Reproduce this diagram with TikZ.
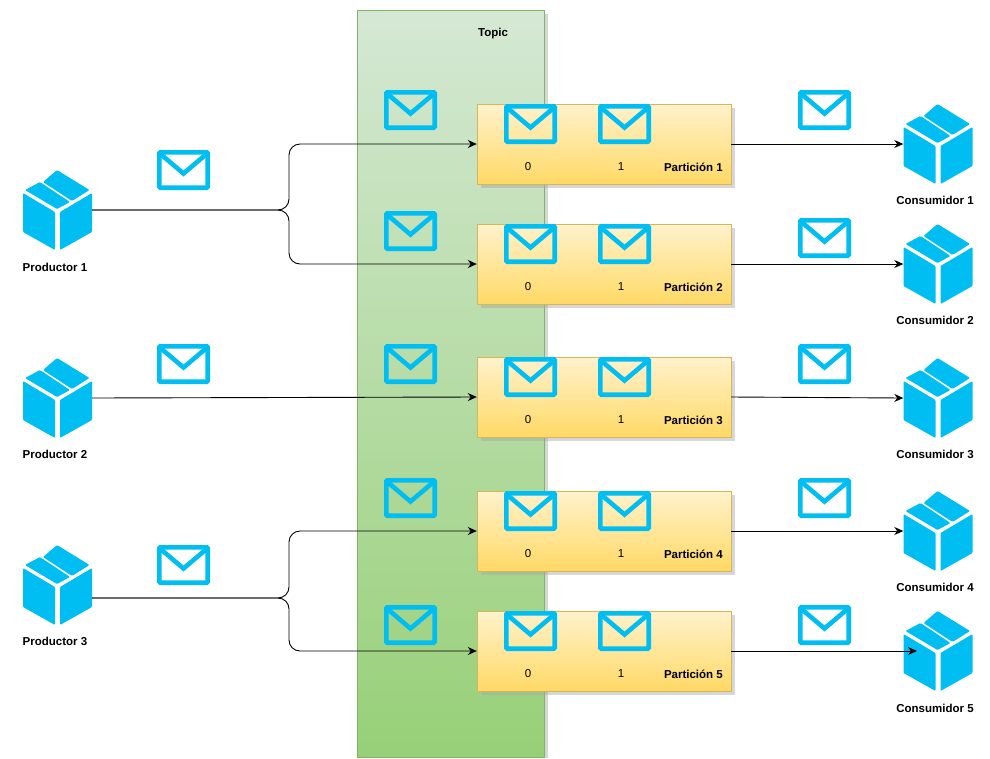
\documentclass[tikz,border=0pt]{standalone}
\usepackage{fontspec}
\setmainfont{Liberation Sans}
\usetikzlibrary{arrows.meta,shadows}
\definecolor{iconblue}{HTML}{00BEF2}
\tikzset{
  lbl/.style={font=\fontsize{11.5}{13}\selectfont\bfseries,inner sep=0pt},
  num/.style={font=\fontsize{11.5}{13}\selectfont,inner sep=0pt},
  conn/.style={draw=black,line width=0.9pt,-{Stealth[length=9pt,width=8pt]},rounded corners=11pt},
  partbox/.style={draw=none,inner sep=0pt,minimum width=254pt,minimum height=80pt},
  cubenode/.style={inner sep=0pt,minimum width=69pt,minimum height=80pt},
  mailnode/.style={inner sep=0pt,minimum width=53pt,minimum height=40pt},
  cube/.pic={
    \fill[iconblue,rounded corners=1pt] (-34.5,-17) -- (-2.5,2) -- (-2.5,40) -- (-34.5,22) -- cycle;
    \fill[iconblue,rounded corners=1pt] (34.5,-17) -- (2.5,2) -- (2.5,40) -- (34.5,22) -- cycle;
    \fill[iconblue,rounded corners=1pt] (-0.5,-40) -- (32,-20) -- (14.5,-9) -- (-14.5,-28) -- cycle;
    \fill[iconblue,rounded corners=1pt] (-17.5,-28) -- (12.5,-8) -- (-0.5,-1) -- (-32.5,-20) -- cycle;
  },
  mail/.pic={
    \draw[iconblue,line width=4.6pt,rounded corners=1pt] (-24.2,-17.7) rectangle (24.2,17.7);
    \draw[iconblue,line width=4.6pt,line join=miter] (-23,-16) -- (0,3.5) -- (23,-16);
  }
}
\newcommand{\mailicon}[3]{\node[mailnode] (#1) at (#2,#3) {}; \pic at (#1) {mail};}
\newcommand{\cubeicon}[3]{\node[cubenode] (#1) at (#2,#3) {}; \pic at (#1) {cube};}
\newcommand{\partition}[2]{%
  \node[partbox,top color=white!20!yellow!20!orange!0,bottom color=white,draw=none] (pb#1) at (604,#2) {};
  \fill[black!35,opacity=.45] (481,#2-36) rectangle (735,#2+44);
  \draw[draw=partedge,line width=.8pt,top color=parttop,bottom color=partbot] (477,#2-40) rectangle (731,#2+40);
  \mailicon{pma#1}{530.5}{#2-20}
  \mailicon{pmb#1}{624.5}{#2-20}
  \node[num] (pn0#1) at (528,#2+23) {0};
  \node[num] (pn1#1) at (621,#2+23) {1};
  \node[lbl,anchor=east] (pl#1) at (723,#2+23) {Partición #1};
}
\definecolor{parttop}{HTML}{FFF2CC}
\definecolor{partbot}{HTML}{FFD966}
\definecolor{partedge}{HTML}{D6B656}
\definecolor{topictop}{HTML}{D5E8D4}
\definecolor{topicbot}{HTML}{97D077}
\definecolor{topicedge}{HTML}{82B366}
\begin{document}
\begin{tikzpicture}[x=1pt,y=-1pt]
\useasboundingbox (0,0) rectangle (990,758);
\fill[black!35,opacity=.45] (361,14) rectangle (548,758);
\draw[draw=topicedge,line width=.8pt,top color=topictop,bottom color=topicbot] (357,10) rectangle (544,757);
\node[lbl] (topic) at (493,34) {Topic};
% producers
\cubeicon{p1}{57.5}{210}
\cubeicon{p2}{57.5}{398}
\cubeicon{p3}{57.5}{585}
\node[lbl] (pl1) at (55,267) {Productor 1};
\node[lbl] (pl2) at (55,454) {Productor 2};
\node[lbl] (pl3) at (55,641) {Productor 3};
\mailicon{mp1}{183.5}{170}
\mailicon{mp2}{183.5}{364}
\mailicon{mp3}{183.5}{565}
% topic mails
\mailicon{mt1}{410.5}{110}
\mailicon{mt2}{410.5}{231}
\mailicon{mt3}{410.5}{364}
\mailicon{mt4}{410.5}{498}
\mailicon{mt5}{410.5}{625}
% partitions
\partition{1}{144}
\partition{2}{264}
\partition{3}{397}
\partition{4}{531}
\partition{5}{651}
% consumers
\cubeicon{c1}{938}{144}
\cubeicon{c2}{938}{264}
\cubeicon{c3}{938}{398}
\cubeicon{c4}{938}{531}
\cubeicon{c5}{938}{651}
\node[lbl] (cl1) at (935,200) {Consumidor 1};
\node[lbl] (cl2) at (935,320) {Consumidor 2};
\node[lbl] (cl3) at (935,454) {Consumidor 3};
\node[lbl] (cl4) at (935,587) {Consumidor 4};
\node[lbl] (cl5) at (935,708) {Consumidor 5};
\mailicon{mc1}{824.5}{110}
\mailicon{mc2}{824.5}{238}
\mailicon{mc3}{824.5}{364}
\mailicon{mc4}{824.5}{498}
\mailicon{mc5}{824.5}{625}
% connectors
\coordinate (s1) at (289,210);
\coordinate (s3) at (289,598);
\draw[conn] (p1.east) -- (s1) |- (pb1.west);
\draw[conn] (p1.east) -- (s1) |- (pb2.west);
\draw[conn] (p2.east) -- (pb3.west);
\draw[conn] (92,598) -- (s3) |- (pb4.west);
\draw[conn] (92,598) -- (s3) |- (pb5.west);
\foreach \i in {1,...,4} {\draw[conn] (pb\i.east) -- (c\i.west);}
\coordinate (c5in) at (917,651);
\draw[conn] (pb5.east) -- (c5in);
\end{tikzpicture}
\end{document}
